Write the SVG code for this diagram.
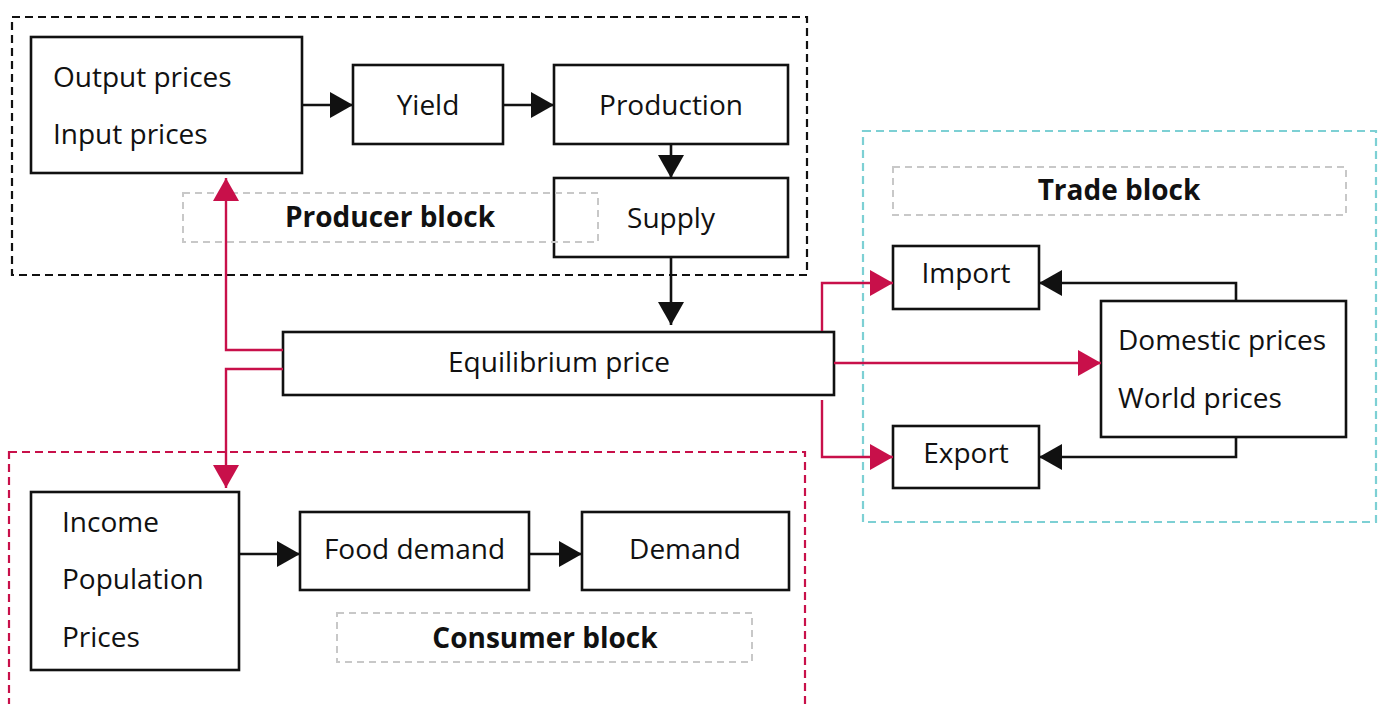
<svg xmlns="http://www.w3.org/2000/svg" width="1382" height="704" viewBox="0 0 1382 704">
<style>
.node{fill:#fff;stroke:#111;stroke-width:2.6}
.t{font-family:"Open Sans","Liberation Sans",sans-serif;font-size:28px;fill:#111}
.c{text-anchor:middle}
.b{font-weight:bold;font-size:28px}
.lbl{fill:none;stroke:#c8c8c8;stroke-width:2;stroke-dasharray:7 5}
.blk{fill:none;stroke-width:2.2;stroke-dasharray:8 5}
.ab{fill:none;stroke:#111;stroke-width:2.6}
.ar{fill:none;stroke:#c8104a;stroke-width:2.4}
</style>
<defs>
<marker id="hb" viewBox="0 0 23 26" refX="23" refY="13" markerWidth="23" markerHeight="26" markerUnits="userSpaceOnUse" orient="auto">
<path d="M0,0 L23,13 L0,26 z" fill="#111"/>
</marker>
<marker id="hr" viewBox="0 0 23 26" refX="23" refY="13" markerWidth="23" markerHeight="26" markerUnits="userSpaceOnUse" orient="auto">
<path d="M0,0 L23,13 L0,26 z" fill="#c8104a"/>
</marker>
</defs>
<rect width="1382" height="704" fill="#fff"/>

<g id="inputs-producer">
<rect class="node" x="31" y="37" width="271" height="136"/>
<text class="t" x="53" y="87">Output prices</text>
<text class="t" x="53" y="144">Input prices</text>
</g>
<g id="yield">
<rect class="node" x="353" y="65" width="150" height="79"/>
<text class="t c" x="428" y="115">Yield</text>
</g>
<g id="production">
<rect class="node" x="554" y="65" width="234" height="79"/>
<text class="t c" x="671" y="115">Production</text>
</g>
<g id="supply">
<rect class="node" x="554" y="178" width="234" height="79"/>
<text class="t c" x="671" y="228">Supply</text>
</g>
<g id="equilibrium-price">
<rect class="node" x="283" y="332" width="551" height="63"/>
<text class="t c" x="559" y="372">Equilibrium price</text>
</g>
<g id="inputs-consumer">
<rect class="node" x="31" y="492" width="208" height="178"/>
<text class="t" x="62" y="532">Income</text>
<text class="t" x="62" y="589">Population</text>
<text class="t" x="62" y="647">Prices</text>
</g>
<g id="food-demand">
<rect class="node" x="300" y="512" width="229" height="78"/>
<text class="t c" x="414.5" y="559">Food demand</text>
</g>
<g id="demand">
<rect class="node" x="582" y="512" width="207" height="78"/>
<text class="t c" x="685" y="559">Demand</text>
</g>
<g id="import">
<rect class="node" x="893" y="246" width="146" height="63"/>
<text class="t c" x="966" y="283">Import</text>
</g>
<g id="export">
<rect class="node" x="893" y="426" width="146" height="62"/>
<text class="t c" x="966" y="463">Export</text>
</g>
<g id="prices-trade">
<rect class="node" x="1101" y="301" width="245" height="136"/>
<text class="t" x="1118" y="350">Domestic prices</text>
<text class="t" x="1118" y="408">World prices</text>
</g>

<g id="producer-block">
<rect class="blk" x="12" y="17" width="795" height="258" stroke="#111"/>
<rect class="lbl" x="183" y="193" width="415" height="49"/>
<text class="t b c" x="390" y="227">Producer block</text>
</g>
<g id="trade-block">
<rect class="blk" x="863" y="131" width="513" height="391" stroke="#7dd0d4"/>
<rect class="lbl" x="893" y="167" width="453" height="48"/>
<text class="t b c" x="1119" y="200">Trade block</text>
</g>
<g id="consumer-block">
<rect class="blk" x="9" y="452" width="796" height="280" stroke="#c8104a"/>
<rect class="lbl" x="337" y="613" width="415" height="49"/>
<text class="t b c" x="545" y="648">Consumer block</text>
</g>

<g id="connectors">
<line class="ab" x1="302" y1="105" x2="353" y2="105" marker-end="url(#hb)"/>
<line class="ab" x1="503" y1="105" x2="554" y2="105" marker-end="url(#hb)"/>
<line class="ab" x1="671" y1="144" x2="671" y2="178" marker-end="url(#hb)"/>
<line class="ab" x1="671" y1="257" x2="671" y2="325" marker-end="url(#hb)"/>
<line class="ab" x1="239" y1="554" x2="300" y2="554" marker-end="url(#hb)"/>
<line class="ab" x1="529" y1="554" x2="582" y2="554" marker-end="url(#hb)"/>
<path class="ab" d="M1236,301 V283 H1039" marker-end="url(#hb)"/>
<path class="ab" d="M1236,437 V457 H1039" marker-end="url(#hb)"/>
<path class="ar" d="M283,350 H226 V178" marker-end="url(#hr)"/>
<path class="ar" d="M283,369 H226 V488" marker-end="url(#hr)"/>
<path class="ar" d="M834,363 H1101" marker-end="url(#hr)"/>
<path class="ar" d="M822,331 V283 H893" marker-end="url(#hr)"/>
<path class="ar" d="M822,400 V457 H893" marker-end="url(#hr)"/>
</g>
</svg>
